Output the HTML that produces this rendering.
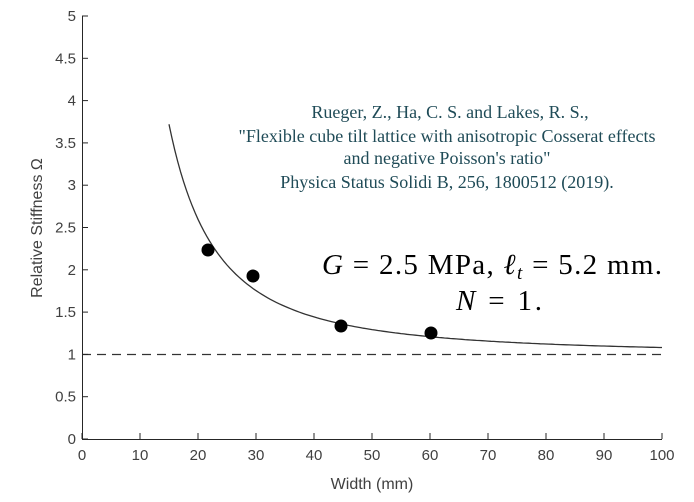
<!DOCTYPE html>
<html><head><style>
body{margin:0;background:#fff;width:694px;height:502px;overflow:hidden}
svg{display:block}
.t{font-family:"Liberation Sans",sans-serif;font-size:15px;fill:#404040}
.c{font-family:"Liberation Serif",serif;font-size:18px;fill:#1f4b57}
.m{font-family:"Liberation Serif",serif;font-size:29px;fill:#000}
</style></head><body>
<svg id="s" width="694" height="502" xmlns="http://www.w3.org/2000/svg">
<g id="ax" stroke="#262626" stroke-width="1" fill="none">
<line x1="82.5" y1="16" x2="82.5" y2="439.5"/>
<line x1="82" y1="439.5" x2="662" y2="439.5"/>
</g>
<line x1="82" y1="354.5" x2="662" y2="354.5" stroke="#333" stroke-width="1.3" stroke-dasharray="9,6"/>
<path id="cv" fill="none" stroke="#333" stroke-width="1.3"/>
<g fill="#000">
<circle cx="208" cy="250" r="6.5"/><circle cx="253" cy="276" r="6.5"/>
<circle cx="341" cy="326" r="6.5"/><circle cx="431" cy="333" r="6.5"/>
</g>
<g id="lab"></g>
<text class="t" x="372" y="489" text-anchor="middle" style="font-size:16px">Width (mm)</text>
<text class="t" transform="translate(42,228) rotate(-90)" text-anchor="middle" style="font-size:16px">Relative Stiffness Ω</text>
<text class="c" x="450" y="118" text-anchor="middle">Rueger, Z., Ha, C. S. and Lakes, R. S.,</text>
<text class="c" x="447" y="142" text-anchor="middle" textLength="417">"Flexible cube tilt lattice with anisotropic Cosserat effects</text>
<text class="c" x="447" y="164" text-anchor="middle">and negative Poisson's ratio"</text>
<text class="c" x="447" y="188" text-anchor="middle">Physica Status Solidi B, 256, 1800512 (2019).</text>
<text class="m" x="322" y="274" textLength="340"><tspan font-style="italic">G</tspan> = 2.5 MPa, <tspan font-style="italic">ℓ</tspan><tspan font-style="italic" font-size="19" dy="5">t</tspan><tspan dy="-5"> = 5.2 mm.</tspan></text>
<text class="m" x="456" y="310" textLength="86"><tspan font-style="italic">N</tspan> = 1.</text>
</svg>
<script>
var X=function(v){return 82+v*5.8},Y=function(v){return 439-v*84.6};
var d="";for(var w=15;w<=100;w+=0.5){var o=1+2.72*Math.pow(15/w,1.85);d+=(d?"L":"M")+X(w).toFixed(1)+","+Y(o).toFixed(1);}
document.getElementById("cv").setAttribute("d",d);
var lab=document.getElementById("lab"),h="";
for(var i=0;i<=10;i++){var x=X(i*10);h+='<line x1="'+x+'" y1="439" x2="'+x+'" y2="433" stroke="#262626"/><text class="t" x="'+x+'" y="460" text-anchor="middle">'+(i*10)+'</text>';}
for(var j=0;j<=10;j++){var y=Y(j*0.5);h+='<line x1="82" y1="'+y+'" x2="88" y2="'+y+'" stroke="#262626"/><text class="t" x="76" y="'+(y+5)+'" text-anchor="end">'+(j*0.5)+'</text>';}
lab.innerHTML=h;
</script>
</body></html>
